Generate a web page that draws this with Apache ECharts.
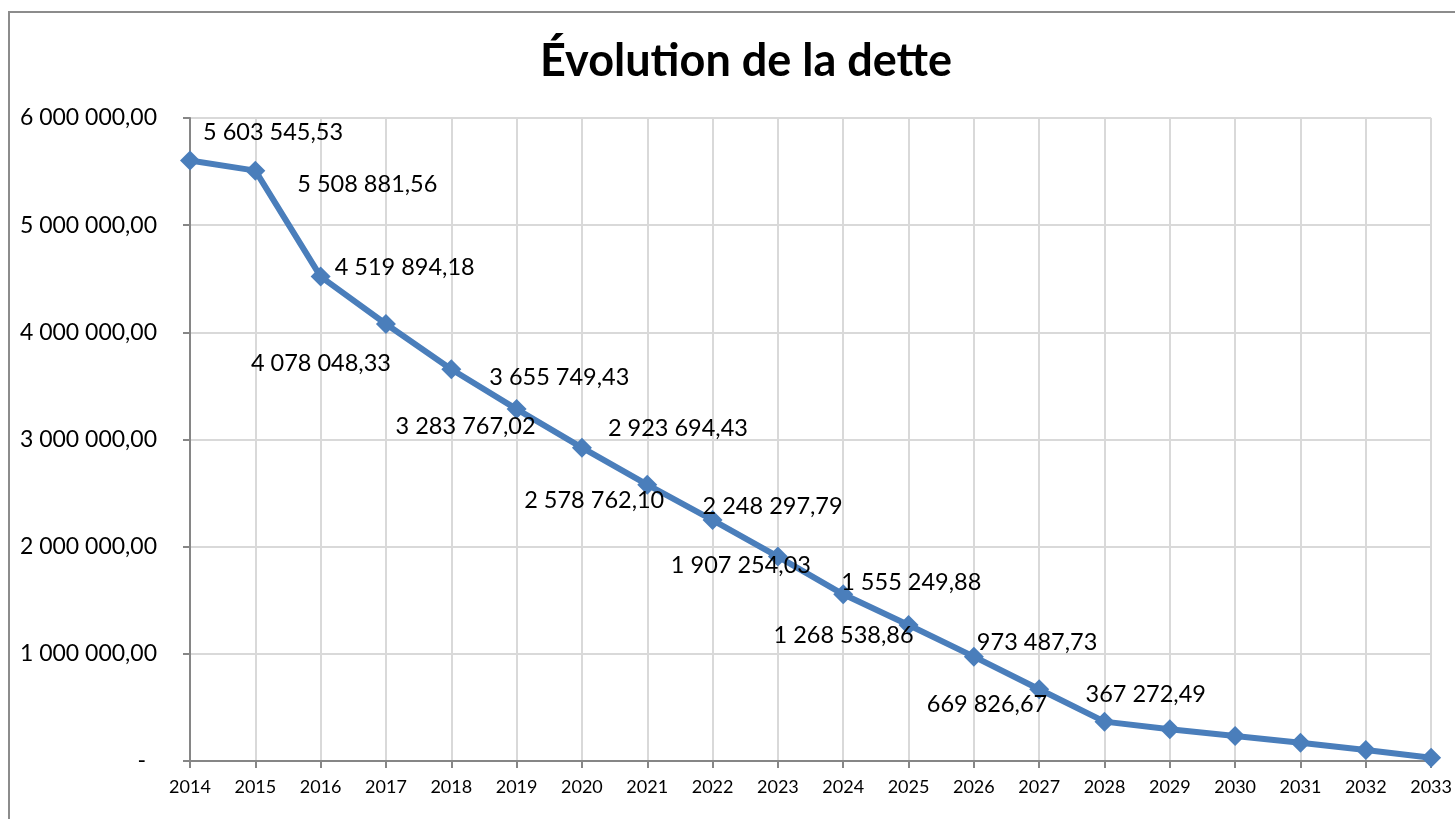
<!DOCTYPE html>
<html>
<head>
<meta charset="utf-8">
<title>Évolution de la dette</title>
<script src="https://cdn.jsdelivr.net/npm/echarts@6/dist/echarts.min.js"></script>
<style>
  html, body { margin: 0; padding: 0; background: #fff; }
  #myChart { width: 1455px; height: 819px; }
</style>
</head>
<body>
<div id="myChart"></div>
<script>
  // years on the x axis
  var years = ['2014', '2015', '2016', '2017', '2018', '2019', '2020', '2021', '2022', '2023',
    '2024', '2025', '2026', '2027', '2028', '2029', '2030', '2031', '2032', '2033']

  // remaining debt (last 5, no label there)
  var dette = [5603545.53, 5508881.56, 4519894.18, 4078048.33, 3655749.43, 3283767.02,
    2923694.43, 2578762.10, 2248297.79, 1907254.03, 1555249.88, 1268538.86,
    973487.73, 669826.67, 367272.49, 296000, 233000, 171000, 103000, 31000]

  // which points carry a data label
  var labelled = [true, true, true, true, true, true, true, true, true, true,
    true, true, true, true, true, false, false, false, false, false]

  var yTicks = [0, 1000000, 2000000, 3000000, 4000000, 5000000, 6000000]

  // label placement (align side, dx, dy) - layout only
  var labelPlace = [
    ['left', 13, -28], ['left', 42, 14], ['left', 14, -9], ['right', 5, 39],
    ['left', 38, 8], ['right', 19, 17], ['left', 26, -19], ['right', 17, 16],
    ['left', -10, -14], ['right', 33, 9], ['left', -2, -12], ['right', 5, 10],
    ['left', 3, -14], ['right', 8, 15], ['left', -19, -27]
  ]

  function fmt(v) {
    if (v === 0) return '-'
    var parts = v.toFixed(2).split('.')
    return parts[0].replace(/\B(?=(\d{3})+(?!\d))/g, ' ') + ',' + parts[1]
  }

  var seriesData = dette.map(function (v, i) {
    var item = {value: v}
    if (labelled[i]) {
      var p = labelPlace[i]
      item.label = {
        show: true,
        position: 'inside',
        align: p[0],
        verticalAlign: 'middle',
        offset: [p[1], p[2]]
      }
    } else {
      item.label = {show: false}
    }
    return item
  })

  var myCharts = echarts.init(document.getElementById('myChart'))
  myCharts.setOption({
    animation: false,
    textStyle: {fontFamily: 'Lato'},
    title: {
      text: 'Évolution de la dette',
      left: 741,
      textAlign: 'center',
      top: 34,
      textStyle: {fontFamily: 'Lato', fontWeight: 'bold', fontSize: 45, color: '#000'}
    },
    graphic: [{
      type: 'rect',
      z: -10,
      shape: {x: 9, y: 12, width: 1600, height: 1000},
      style: {fill: 'none', stroke: '#8c8c8c', lineWidth: 2}
    }],
    grid: {left: 190, right: 20, top: 118, bottom: 58},
    xAxis: {
      type: 'category',
      boundaryGap: false,
      data: years,
      axisLine: {lineStyle: {color: '#868686', width: 2}},
      axisTick: {show: true, length: 7, lineStyle: {color: '#868686', width: 2}},
      axisLabel: {color: '#000', fontSize: 18, margin: 17, fontFamily: 'Lato'},
      splitLine: {show: true, lineStyle: {color: '#d9d9d9', width: 2}}
    },
    yAxis: {
      type: 'value',
      min: yTicks[0],
      max: yTicks[yTicks.length - 1],
      interval: yTicks[1] - yTicks[0],
      axisLine: {show: true, lineStyle: {color: '#868686', width: 2}},
      axisTick: {show: true, length: 7, lineStyle: {color: '#868686', width: 2}},
      axisLabel: {
        color: '#000', fontSize: 23, margin: 33, fontFamily: 'Lato',
        formatter: function (v) {
          return v === 0 ? '{d|-}' : fmt(v)
        },
        rich: {d: {fontSize: 23, color: '#000', padding: [0, 11, 0, 0], fontFamily: 'Lato'}}
      },
      splitLine: {show: true, lineStyle: {color: '#d9d9d9', width: 2}}
    },
    series: [{
      name: 'Dette',
      type: 'line',
      data: seriesData,
      symbol: 'diamond',
      symbolSize: 20,
      lineStyle: {color: '#4a7ebb', width: 6},
      itemStyle: {color: '#4a7ebb'},
      label: {
        color: '#000',
        fontSize: 23.5,
        fontFamily: 'Lato',
        formatter: function (p) { return fmt(p.value) }
      }
    }]
  })
</script>
</body>
</html>
